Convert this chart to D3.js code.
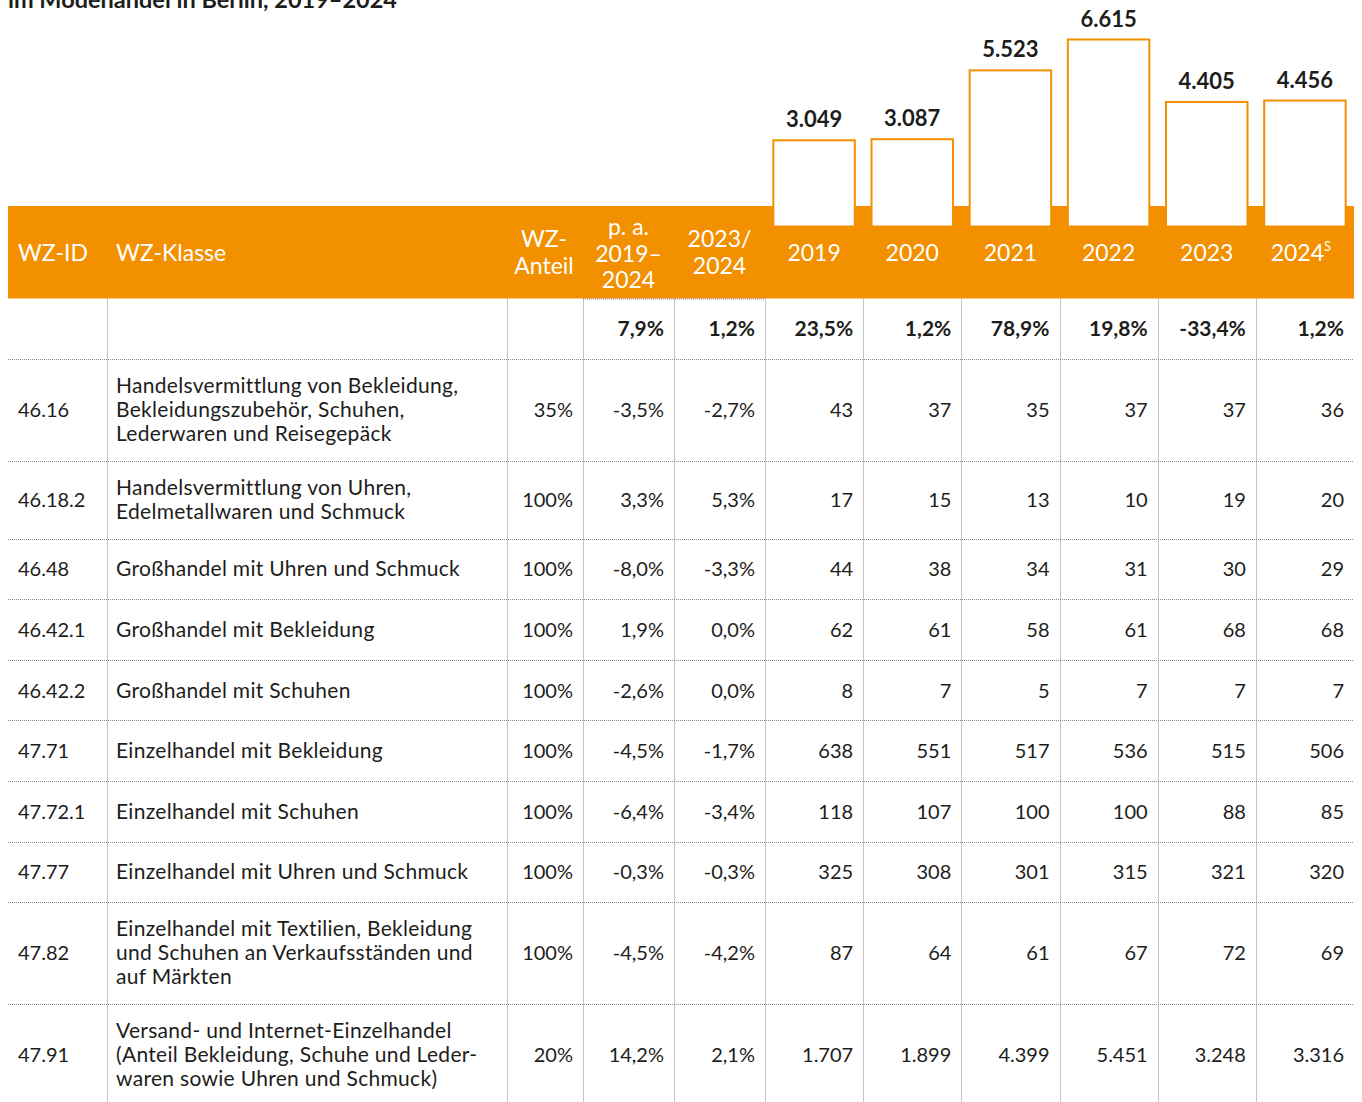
<!DOCTYPE html>
<html>
<head>
<meta charset="utf-8">
<script src="https://cdn.jsdelivr.net/npm/d3@7"></script>
<style>
  html, body { margin: 0; padding: 0; background: #fff; }
  svg { display: block; font-family: Lato, "Noto Sans", sans-serif; }
</style>
</head>
<body>
<svg id="chart" width="1362" height="1102"></svg>
<script>
// ---------- DATA ----------
const titleText = "im Modehandel in Berlin, 2019–2024";
const years = ["2019", "2020", "2021", "2022", "2023", "2024"];
const yearSup = ["", "", "", "", "", "S"];
const totals = [3049, 3087, 5523, 6615, 4405, 4456];
const totalGrowth = [23.5, 1.2, 78.9, 19.8, -33.4, 1.2];
const totalPa = 7.9;
const totalYoy = 1.2;

const wzIds = ["46.16", "46.18.2", "46.48", "46.42.1", "46.42.2", "47.71", "47.72.1", "47.77", "47.82", "47.91"];
const wzKlassen = [
  ["Handelsvermittlung von Bekleidung,", "Bekleidungszubehör, Schuhen,", "Lederwaren und Reisegepäck"],
  ["Handelsvermittlung von Uhren,", "Edelmetallwaren und Schmuck"],
  ["Großhandel mit Uhren und Schmuck"],
  ["Großhandel mit Bekleidung"],
  ["Großhandel mit Schuhen"],
  ["Einzelhandel mit Bekleidung"],
  ["Einzelhandel mit Schuhen"],
  ["Einzelhandel mit Uhren und Schmuck"],
  ["Einzelhandel mit Textilien, Bekleidung", "und Schuhen an Verkaufsständen und", "auf Märkten"],
  ["Versand- und Internet-Einzelhandel", "(Anteil Bekleidung, Schuhe und Leder-", "waren sowie Uhren und Schmuck)"]
];
const wzAnteil = [35, 100, 100, 100, 100, 100, 100, 100, 100, 20];
const paGrowth = [-3.5, 3.3, -8.0, 1.9, -2.6, -4.5, -6.4, -0.3, -4.5, 14.2];
const yoyGrowth = [-2.7, 5.3, -3.3, 0.0, 0.0, -1.7, -3.4, -0.3, -4.2, 2.1];
const v2019 = [43, 17, 44, 62, 8, 638, 118, 325, 87, 1707];
const v2020 = [37, 15, 38, 61, 7, 551, 107, 308, 64, 1899];
const v2021 = [35, 13, 34, 58, 5, 517, 100, 301, 61, 4399];
const v2022 = [37, 10, 31, 61, 7, 536, 100, 315, 67, 5451];
const v2023 = [37, 19, 30, 68, 7, 515, 88, 321, 72, 3248];
const v2024 = [36, 20, 29, 68, 7, 506, 85, 320, 69, 3316];
const yearValues = [v2019, v2020, v2021, v2022, v2023, v2024];

const headId = "WZ-ID";
const headKlasse = "WZ-Klasse";
const headAnteil = ["WZ-", "Anteil"];
const headPa = ["p. a.", "2019–", "2024"];
const headYoy = ["2023/", "2024"];

// ---------- STYLE / LAYOUT ----------
const ORANGE = "#f39000";
const INK = "#1d1d1b";
const GRID = "#8c8c8c";
const W = 1362, H = 1102;
const left = 8, right = 1354;
const bandTop = 206, bandBottom = 298.5;
const barBase = 226.5, barTopMax = 39.5;
const colId = [left, 107], colKl = [107, 507], colAn = [507, 583], colPa = [583, 674], colYoy = [674, 765];
const yearRange = [765, right];
const rowHeightByLines = {1: 60.6, 2: 78, 3: 101.5};
const lineH = 24;

const de = d3.formatLocale({decimal: ",", thousands: ".", grouping: [3], currency: ["", "€"], minus: "-"});
const fmtInt = de.format(",d");
const fmtPct1 = v => de.format(".1f")(v) + "%";
const fmtPct0 = v => de.format("d")(v) + "%";

const svg = d3.select("#chart");

// Title (partially cut off at top, as in the source)
svg.append("text")
  .attr("x", left).attr("y", 8)
  .attr("font-size", 23.5).attr("font-weight", 700).attr("fill", INK)
  .text(titleText);

// Scales
const xCols = d3.scaleBand().domain(years).range(yearRange).padding(0);
const xBars = d3.scaleBand().domain(years).range(yearRange).paddingInner(0.17).paddingOuter(0.085);
const yBar = d3.scaleLinear().domain([0, d3.max(totals)]).range([barBase, barTopMax]);

// Orange header band
svg.append("rect")
  .attr("x", left).attr("y", bandTop)
  .attr("width", right - left).attr("height", bandBottom - bandTop)
  .attr("fill", ORANGE);

// Bars
svg.append("g").selectAll("rect")
  .data(totals)
  .join("rect")
  .attr("x", (d, i) => xBars(years[i]))
  .attr("y", d => yBar(d))
  .attr("width", xBars.bandwidth())
  .attr("height", d => barBase - yBar(d))
  .attr("fill", "#fff")
  .attr("stroke", ORANGE)
  .attr("stroke-width", 2);

// Bar labels
svg.append("g").selectAll("text")
  .data(totals)
  .join("text")
  .attr("x", (d, i) => xBars(years[i]) + xBars.bandwidth() / 2)
  .attr("y", d => yBar(d) - 13)
  .attr("text-anchor", "middle")
  .attr("font-size", 22).attr("font-weight", 700).attr("fill", INK)
  .text(d => fmtInt(d));

// Header labels
const hdr = svg.append("g").attr("fill", "#fff").attr("font-size", 23);
const hdrBase = 261;
hdr.append("text").attr("x", 18).attr("y", hdrBase).text(headId);
hdr.append("text").attr("x", 116).attr("y", hdrBase).text(headKlasse);
function multiHeader(lines, cx, firstBase, lh) {
  const t = hdr.append("text").attr("text-anchor", "middle");
  lines.forEach((l, i) => t.append("tspan").attr("x", cx).attr("y", firstBase + i * lh).text(l));
}
multiHeader(headAnteil, (colAn[0] + colAn[1]) / 2 - 1, 247, 27);
multiHeader(headPa, (colPa[0] + colPa[1]) / 2, 235, 26.5);
multiHeader(headYoy, (colYoy[0] + colYoy[1]) / 2, 247, 27);
years.forEach((y, i) => {
  const t = hdr.append("text")
    .attr("x", xCols(y) + xCols.bandwidth() / 2 - (yearSup[i] ? 4 : 0))
    .attr("y", hdrBase)
    .attr("text-anchor", "middle");
  t.append("tspan").text(y);
  if (yearSup[i]) t.append("tspan").attr("font-size", 13).attr("dy", -10).text(yearSup[i]);
});

// Rows layout
const rowsTop = bandBottom;
const totalRowH = rowHeightByLines[1];
const rowTops = [];
let yy = rowsTop + totalRowH;
wzKlassen.forEach(lines => { rowTops.push(yy); yy += rowHeightByLines[lines.length]; });
const rowHeights = wzKlassen.map(l => rowHeightByLines[l.length]);

// Grid lines
const grid = svg.append("g").attr("stroke", GRID).attr("stroke-width", 1).attr("stroke-dasharray", "1,1").attr("fill", "none");
const vLines = [colId[1], colKl[1], colAn[1], colPa[1], colYoy[1], ...years.slice(1).map(y => xCols(y))];
vLines.forEach(x => grid.append("line").attr("x1", Math.round(x) + 0.5).attr("x2", Math.round(x) + 0.5).attr("y1", bandBottom).attr("y2", H));
const hLines = [rowsTop + totalRowH, ...rowTops.slice(1), rowTops[rowTops.length - 1] + rowHeights[rowHeights.length - 1]];
hLines.forEach(y => grid.append("line").attr("x1", left).attr("x2", right).attr("y1", Math.round(y) + 0.5).attr("y2", Math.round(y) + 0.5));
grid.append("line").attr("x1", colPa[0]).attr("x2", colYoy[1]).attr("y1", bandBottom + 0.5).attr("y2", bandBottom + 0.5);

// Totals row
const tr = svg.append("g").attr("font-size", 21).attr("font-weight", 700).attr("fill", INK).attr("text-anchor", "end");
const trBase = rowsTop + totalRowH / 2 + 7.5;
tr.append("text").attr("x", colPa[1] - 10).attr("y", trBase).text(fmtPct1(totalPa));
tr.append("text").attr("x", colYoy[1] - 10).attr("y", trBase).text(fmtPct1(totalYoy));
tr.selectAll("text.g").data(totalGrowth).join("text").attr("class", "g")
  .attr("x", (d, i) => xCols(years[i]) + xCols.bandwidth() - 10)
  .attr("y", trBase)
  .text(d => fmtPct1(d));

// Body rows
const body = svg.append("g").attr("font-size", 20).attr("fill", INK);
wzIds.forEach((id, r) => {
  const cy = rowTops[r] + rowHeights[r] / 2;
  const base = cy + 7.5;
  body.append("text").attr("x", 18).attr("y", base).text(id);
  const lines = wzKlassen[r];
  const kt = body.append("text").attr("font-size", 21).attr("letter-spacing", 0.3);
  lines.forEach((l, i) => kt.append("tspan").attr("x", 116).attr("y", base + (i - (lines.length - 1) / 2) * lineH).text(l));
  body.append("text").attr("x", colAn[1] - 10).attr("y", base).attr("text-anchor", "end").text(fmtPct0(wzAnteil[r]));
  body.append("text").attr("x", colPa[1] - 10).attr("y", base).attr("text-anchor", "end").text(fmtPct1(paGrowth[r]));
  body.append("text").attr("x", colYoy[1] - 10).attr("y", base).attr("text-anchor", "end").text(fmtPct1(yoyGrowth[r]));
  years.forEach((y, j) => {
    body.append("text")
      .attr("x", xCols(y) + xCols.bandwidth() - 10)
      .attr("y", base)
      .attr("text-anchor", "end")
      .text(fmtInt(yearValues[j][r]));
  });
});
</script>
</body>
</html>
